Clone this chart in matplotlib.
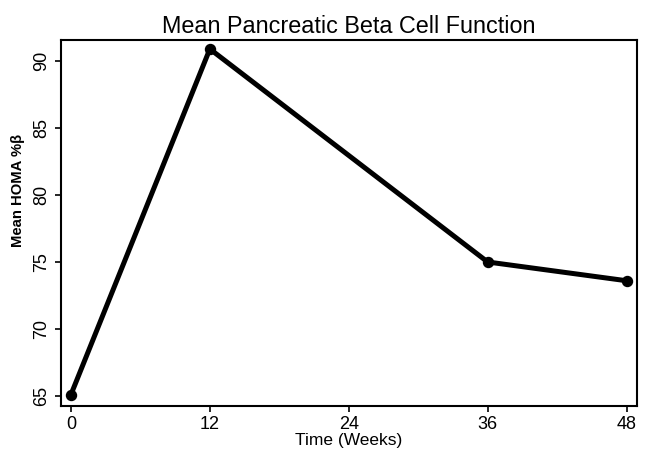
import matplotlib
matplotlib.use("Agg")
import matplotlib.pyplot as plt

weeks = [0, 12, 36, 48]
homa_beta = [65.1, 90.9, 75.0, 73.6]
xticks = [0, 12, 24, 36, 48]
yticks = [65, 70, 75, 80, 85, 90]

plt.rcParams['font.family'] = ['Liberation Sans', 'DejaVu Sans']

fig = plt.figure(figsize=(6.49, 4.58), dpi=100)
# axes frame: x 61..637 px, y 40..406 px
ax = fig.add_axes([61/649, 1-406/458, 576/649, 366/458])
ax.plot(weeks, homa_beta, color='black', linewidth=3.6, marker='o', markersize=7.2)
ax.set_xlim(-0.86, 48.9)
ax.set_ylim(64.25, 91.57)
ax.set_xticks(xticks)
ax.set_yticks(yticks)
ax.tick_params(axis='both', direction='out', length=4.5, width=1.2, labelsize=13, pad=3)
for lbl in ax.get_yticklabels():
    lbl.set_rotation(90)
    lbl.set_va('center')
for s in ax.spines.values():
    s.set_linewidth(1.5)
ax.set_title('Mean Pancreatic Beta Cell Function', fontsize=16.8, pad=5)
ax.set_xlabel('Time (Weeks)', fontsize=12.5, labelpad=0)
ax.set_ylabel('Mean HOMA %β', fontsize=10.7, fontweight='bold')
ax.yaxis.set_label_coords(-0.062, 0.59)
fig.savefig('out.png', dpi=100)
